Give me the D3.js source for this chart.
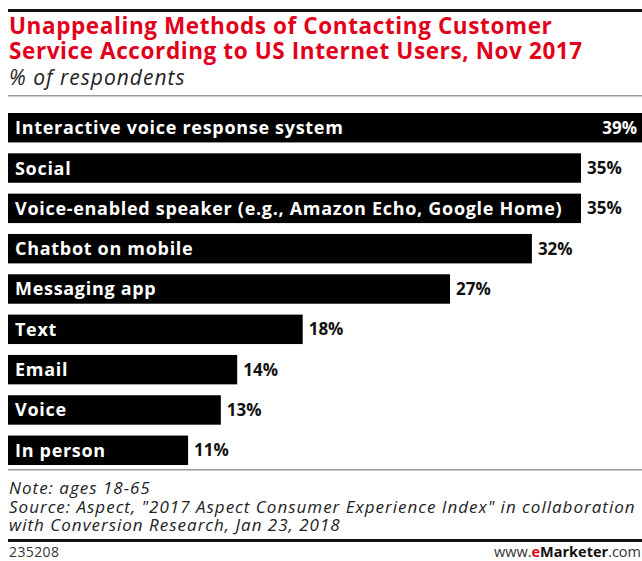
<!DOCTYPE html>
<html>
<head>
<meta charset="utf-8">
<script src="https://cdn.jsdelivr.net/npm/d3@7"></script>
<style>
  body { margin: 0; background: #fff; }
  svg { display: block; font-family: "Open Sans", sans-serif; }
</style>
</head>
<body>
<div id="chart"></div>
<script>
var width = 642;
var height = 561;

// categorias e valores (% de respondentes)
var categories = [
  "Interactive voice response system",
  "Social",
  "Voice-enabled speaker (e.g., Amazon Echo, Google Home)",
  "Chatbot on mobile",
  "Messaging app",
  "Text",
  "Email",
  "Voice",
  "In person"
];
var values = [39, 35, 35, 32, 27, 18, 14, 13, 11];

var titleLines = [
  "Unappealing Methods of Contacting Customer",
  "Service According to US Internet Users, Nov 2017"
];
var subtitle = "% of respondents";
var noteLines = [
  "Note: ages 18-65",
  "Source: Aspect, \"2017 Aspect Consumer Experience Index\" in collaboration",
  "with Conversion Research, Jan 23, 2018"
];
var chartId = "235208";

const svg = d3.select("#chart").append("svg")
  .attr("width", width)
  .attr("height", height);

// linhas de cabeçalho
svg.append("rect").attr("x", 8).attr("y", 9).attr("width", width - 8).attr("height", 3).attr("fill", "#111");

svg.selectAll(".title")
  .data(titleLines)
  .enter().append("text")
  .attr("class", "title")
  .attr("x", 9)
  .attr("y", (d, i) => 34 + i * 25)
  .attr("fill", "#e2001a")
  .attr("font-size", "22.5px")
  .attr("font-weight", "bold")
  .attr("letter-spacing", "0.6px")
  .text(d => d);

svg.append("text")
  .attr("x", 9).attr("y", 85)
  .attr("fill", "#222")
  .attr("font-size", "21px")
  .attr("font-style", "italic")
  .attr("letter-spacing", "1px")
  .text(subtitle);

svg.append("rect").attr("x", 8).attr("y", 95).attr("width", width - 8).attr("height", 1.5).attr("fill", "#999");

// escalas
const x = d3.scaleLinear().domain([0, 35]).range([8, 581]);
const y = d3.scaleBand().domain(categories).range([113, 465]).paddingInner(0.27).paddingOuter(0);

const rows = svg.selectAll(".row")
  .data(categories.map((c, i) => ({ cat: c, value: values[i] })))
  .enter().append("g")
  .attr("class", "row");

rows.append("rect")
  .attr("x", x(0))
  .attr("y", d => y(d.cat))
  .attr("width", d => x(d.value) - x(0))
  .attr("height", y.bandwidth())
  .attr("fill", "#000");

rows.append("text")
  .attr("x", x(0) + 7)
  .attr("y", d => y(d.cat) + y.bandwidth() / 2)
  .attr("dy", "0.36em")
  .attr("fill", "#fff")
  .attr("font-size", "18px")
  .attr("font-weight", "bold")
  .attr("letter-spacing", "0.7px")
  .text(d => d.cat);

// rótulos de valor: dentro da barra quando ela passa da largura
rows.append("text")
  .attr("x", d => x(d.value) > width - 40 ? width - 5 : x(d.value) + 6)
  .attr("text-anchor", d => x(d.value) > width - 40 ? "end" : "start")
  .attr("y", d => y(d.cat) + y.bandwidth() / 2)
  .attr("dy", "0.36em")
  .attr("fill", d => x(d.value) > width - 40 ? "#fff" : "#111")
  .attr("font-size", "17px")
  .attr("font-weight", "bold")
  .text(d => d.value + "%");

// rodapé
svg.append("rect").attr("x", 8).attr("y", 469).attr("width", width - 8).attr("height", 1.5).attr("fill", "#999");

svg.selectAll(".note")
  .data(noteLines)
  .enter().append("text")
  .attr("class", "note")
  .attr("x", 9)
  .attr("y", (d, i) => 494 + i * 18.5)
  .attr("fill", "#222")
  .attr("font-size", "17px")
  .attr("font-style", "italic")
  .attr("letter-spacing", "1px")
  .text(d => d);

svg.append("rect").attr("x", 8).attr("y", 539).attr("width", width - 8).attr("height", 3).attr("fill", "#111");

svg.append("text")
  .attr("x", 9).attr("y", 557)
  .attr("fill", "#333")
  .attr("font-size", "14px")
  .attr("letter-spacing", "0.4px")
  .text(chartId);

const brand = svg.append("text")
  .attr("x", width - 1).attr("y", 557)
  .attr("text-anchor", "end")
  .attr("fill", "#333")
  .attr("font-size", "14.5px");
brand.append("tspan").text("www.");
brand.append("tspan").attr("fill", "#e2001a").attr("font-weight", "bold").text("e");
brand.append("tspan").attr("fill", "#111").attr("font-weight", "bold").text("Marketer");
brand.append("tspan").text(".com");
</script>
</body>
</html>
